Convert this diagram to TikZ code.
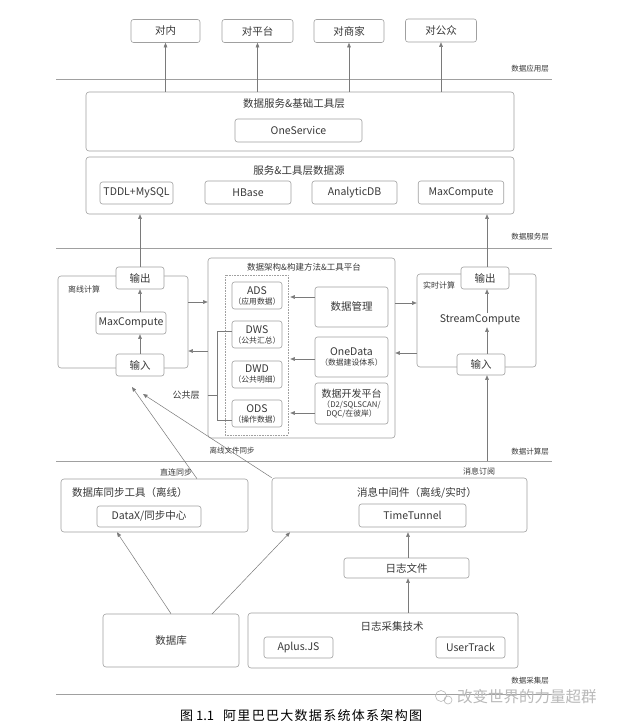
\documentclass[tikz,border=0pt]{standalone}
\usepackage{fontspec}
\setmainfont{Noto Sans CJK SC}
\usetikzlibrary{arrows.meta}
\definecolor{txt}{HTML}{383838}
\definecolor{lnc}{HTML}{7A7A7A}
\definecolor{bdc}{HTML}{A0A0A0}
\newcommand{\fsz}[1]{\fontsize{#1}{#1}\selectfont}
\newcommand{\subtx}[1]{\\[-0.5pt]{\fontsize{7.8}{9}\selectfont #1}}
\tikzset{
  box/.style={draw=bdc, line width=0.6pt, rounded corners=2.5pt, fill=white, inner sep=1pt, text=txt, align=center, font=\fsz{10.5}},
  obox/.style={box, rounded corners=3pt},
  dotbox/.style={draw=bdc, line width=0.6pt, densely dotted, inner sep=0pt},
  arr/.style={draw=lnc, line width=0.5pt, -{Triangle[length=4.5pt,width=3.6pt]}},
  conn/.style={draw=lnc, line width=0.5pt},
  layerline/.style={draw=bdc, line width=0.6pt},
  layerlbl/.style={anchor=east, text=txt, font=\fsz{7.5}, inner sep=0pt},
  lbl/.style={text=txt, inner sep=0pt, font=\fsz{8}},
  ttl/.style={text=txt, inner sep=0pt, font=\fsz{10.5}},
}
\begin{document}
\begin{tikzpicture}[x=1pt,y=-1pt]
\useasboundingbox (0,0) rectangle (617,725);
\fill[white] (0,0) rectangle (617,725);

% layer separators
\coordinate (L1a) at (56,79);  \coordinate (L1b) at (552,79);
\coordinate (L2a) at (56,248); \coordinate (L2b) at (552,248);
\coordinate (L3a) at (56,461); \coordinate (L3b) at (552,461);
\coordinate (L4a) at (56,694); \coordinate (L4b) at (552,694);
\draw[layerline] (L1a) -- (L1b);
\draw[layerline] (L2a) -- (L2b);
\draw[layerline] (L3a) -- (L3b);
\draw[layerline] (L4a) -- (L4b);
\node[layerlbl] (lay1) at (549,69) {数据应用层};
\node[layerlbl] (lay2) at (549,237) {数据服务层};
\node[layerlbl] (lay3) at (549,452) {数据计算层};
\node[layerlbl] (lay4) at (549,681) {数据采集层};

% top targets
\node[box, minimum width=69, minimum height=23] (t1) at (165.5,31) {对内};
\node[box, minimum width=71, minimum height=23] (t2) at (257.5,31) {对平台};
\node[box, minimum width=70, minimum height=23] (t3) at (349,31) {对商家};
\node[box, minimum width=71, minimum height=23] (t4) at (441,30.5) {对公众};

% service layer
\node[obox, minimum width=428, minimum height=59] (svc) at (300,121.5) {};
\node[ttl] (svcT) at (294,104) {数据服务\&基础工具层};
\node[box, minimum width=127, minimum height=23] (ones) at (298.5,130.5) {OneService};
\foreach \t in {t1,t2,t3,t4} \draw[arr] (svc.north -| \t) -- (\t.south);

\node[obox, minimum width=428, minimum height=57] (src) at (300,185.5) {};
\node[ttl] (srcT) at (299,171) {服务\&工具层数据源};
\node[box, minimum width=73, minimum height=22] (tddl) at (136.5,193) {TDDL+MySQL};
\node[box, minimum width=86, minimum height=23] (hb) at (248,192.5) {HBase};
\node[box, minimum width=85, minimum height=23] (adb) at (354.5,192.5) {AnalyticDB};
\node[box, minimum width=85.5, minimum height=23] (mcS) at (461,192.5) {MaxCompute};

% offline compute
\node[obox, minimum width=130, minimum height=92] (offL) at (123,322) {};
\node[lbl] (offT) at (84,289) {离线计算};
\node[box, minimum width=48, minimum height=22] (outL) at (140,278) {输出};
\node[box, minimum width=70, minimum height=22] (mcL) at (131,323) {MaxCompute};
\node[box, minimum width=48, minimum height=22] (inL) at (140,365) {输入};
\coordinate (xL) at (140,0);
\draw[arr] (inL.north) -- (mcL.south -| xL);
\draw[arr] (mcL.north -| xL) -- (outL.south);
\draw[arr] (outL.north) -- (src.south -| xL);

% middle platform
\node[obox, minimum width=187, minimum height=180] (mid) at (301.5,348) {};
\node[lbl, font=\fsz{8.5}] (midT) at (304,267) {数据架构\&构建方法\&工具平台};
\node[dotbox, minimum width=63, minimum height=160] (pub) at (256.5,355) {};
\node[box, minimum width=50, minimum height=27] (ads) at (257,295.5) {ADS\subtx{（应用数据）}};
\node[box, minimum width=50, minimum height=27] (dws) at (257,334.5) {DWS\subtx{（公共汇总）}};
\node[box, minimum width=50, minimum height=27] (dwd) at (257,374.5) {DWD\subtx{（公共明细）}};
\node[box, minimum width=50, minimum height=27] (ods) at (257,413.5) {ODS\subtx{（操作数据）}};
\node[box, minimum width=73, minimum height=40] (dm) at (351.5,307) {数据管理};
\node[box, minimum width=73, minimum height=40] (od) at (351.5,357) {OneData\subtx{（数据建设体系）}};
\node[box, minimum width=73, minimum height=41, font=\fsz{10}] (dev) at (351.5,403.5) {数据开发平台\subtx{（D2/SQLSCAN/}\subtx{DQC/在彼岸）}};
\coordinate (yE) at (0,297);
\coordinate (yF) at (0,359);
\coordinate (yG) at (0,413);
\draw[arr, shorten >=2pt] (dm.west |- yE) -- (pub.east |- yE);
\draw[arr, shorten >=2pt] (od.west |- yF) -- (pub.east |- yF);
\draw[arr, shorten >=2pt] (dev.west |- yG) -- (pub.east |- yG);
\coordinate (bk1) at (217,331);
\coordinate (bk2) at (217,420);
\coordinate (bk3) at (217,395);
\draw[conn] (dws.west |- bk1) -- (bk1) -- (bk2) -- (ods.west |- bk2);
\draw[conn] (mid.west |- bk3) -- (bk3);
\node[lbl, font=\fsz{9}] (pubT) at (186,395) {公共层};

% realtime compute
\node[obox, minimum width=119, minimum height=93] (rtR) at (476.5,320.5) {};
\node[lbl] (rtT) at (439,285) {实时计算};
\node[box, minimum width=48, minimum height=22] (outR) at (485,278) {输出};
\node[text=txt, font=\fsz{10.5}, inner sep=2pt] (scR) at (480,320) {StreamCompute};
\node[box, minimum width=48, minimum height=21] (inR) at (481,364.5) {输入};
\coordinate (xR) at (487,0);
\draw[arr] (inR.north -| xR) -- (scR.south -| xR);
\draw[arr] (scR.north -| xR) -- (outR.south -| xR);
\draw[arr] (outR.north -| xR) -- (src.south -| xR);

% links between compute blocks
\coordinate (yA) at (0,302);
\coordinate (yB) at (0,351);
\coordinate (yC) at (0,303);
\coordinate (yD) at (0,353);
\draw[arr] (offL.east |- yA) -- (mid.west |- yA);
\draw[arr] (mid.west |- yB) -- (offL.east |- yB);
\draw[arr] (mid.east |- yC) -- (rtR.west |- yC);
\draw[arr] (rtR.west |- yD) -- (mid.east |- yD);

% sync layer
\node[obox, minimum width=187, minimum height=53] (sync) at (154.5,505.5) {};
\node[ttl, anchor=west] (syncT) at (72,493) {数据库同步工具（离线）};
\node[box, minimum width=104, minimum height=21] (datax) at (149,516.5) {DataX/同步中心};
\node[obox, minimum width=255, minimum height=54] (msg) at (399.5,505) {};
\node[ttl] (msgT) at (417,493) {消息中间件（离线/实时）};
\node[box, minimum width=107, minimum height=23] (tt) at (412.5,515.5) {TimeTunnel};
\node[box, minimum width=125, minimum height=20] (logf) at (406.5,568) {日志文件};

% collection layer
\node[obox, minimum width=136, minimum height=53] (db) at (171,640.5) {数据库};
\node[obox, minimum width=270, minimum height=55] (lc) at (383,640.5) {};
\node[ttl] (lcT) at (392,626) {日志采集技术};
\node[box, minimum width=69, minimum height=21] (aplus) at (298.5,647.5) {Aplus.JS};
\node[box, minimum width=69, minimum height=21] (ut) at (470.5,647.5) {UserTrack};

\coordinate (xM) at (408,0);
\draw[arr] (lc.north -| xM) -- (logf.south -| xM);
\draw[arr] (logf.north -| xM) -- (msg.south -| xM);
\coordinate (dbR) at (212,614);
\coordinate (x117) at (117,0);
\coordinate (x290) at (290,0);
\coordinate (x197) at (197,0);
\draw[arr] (db.north) -- (sync.south -| x117);
\draw[arr] (dbR) -- (msg.south -| x290);
\coordinate (tipA) at (132,387);
\coordinate (tipB) at (143,394);
\draw[arr] (sync.north -| x197) -- (tipA);
\draw[arr] (msg.north west) -- (tipB);
\coordinate (subs) at (487,461);
\draw[arr] (subs) -- (inR.south -| xR);

\node[lbl] (lbA) at (176,472) {直连同步};
\node[lbl, font=\fsz{7.5}] (lbB) at (232,451) {离线文件同步};
\node[lbl] (lbC) at (479,471) {消息订阅};

% caption and watermark
\node[anchor=west, inner sep=0pt, text=black, font=\fsz{13}] (cap) at (180,716) {图 1.1\hspace{9pt}\addfontfeature{LetterSpace=10}阿里巴巴大数据系统体系架构图};
\draw[gray!55, line width=0.6pt] (441,696) circle (5.5) (448,700) circle (4);
\node[anchor=west, inner sep=0pt, text=gray!55, font=\fsz{15.5}] (wm) at (457,697) {改变世界的力量超群};
\end{tikzpicture}
\end{document}
